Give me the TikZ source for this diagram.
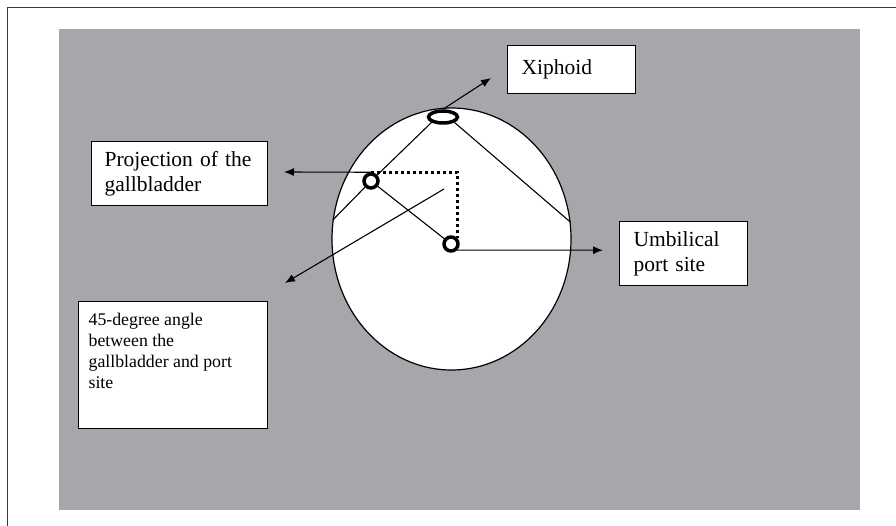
\documentclass[tikz,border=0pt]{standalone}
\usepackage{fontspec}
\setmainfont{Liberation Serif}
\usetikzlibrary{arrows.meta,shapes.geometric}
\definecolor{bggray}{HTML}{A6A7AB}
\definecolor{framegray}{HTML}{3A3A3A}

\begin{document}
\begin{tikzpicture}[x=1pt,y=-1pt,
  thinline/.style={line width=1.1pt},
  ring/.style={circle,draw,line width=3.5pt,fill=white,minimum size=14pt,inner sep=0pt},
  labelbox/.style={draw,fill=white,line width=1.2pt,anchor=north west,align=left,inner ysep=0pt,font=\fontsize{21.5}{25.5}\selectfont},
  arr/.style={line width=1.1pt,-{Latex[length=10pt,width=8pt]}},
  dotline/.style={line width=3pt,dash pattern=on 3pt off 3pt}]
\useasboundingbox (0,0) rectangle (896,526);
\draw[line width=1.8pt,framegray] (7.5,526) -- (7.5,7.5) -- (896,7.5);
\fill[bggray] (59,29) rectangle (860,510);

\node[ellipse,draw,fill=white,line width=1.2pt,minimum width=239pt,minimum height=262pt,inner sep=0pt] (abd) at (451.5,239) {};
\node[ellipse,draw,fill=white,line width=3.5pt,minimum width=29pt,minimum height=12pt,inner sep=0pt] (xiph) at (443,117) {};
\node[ring] (gb) at (371,181) {};
\node[ring] (umb) at (451,244) {};
\coordinate (ang) at (444,189);
\coordinate (angtip) at (285,283);
\coordinate (gbtip) at (284,172);
\coordinate (umbtip) at (603,250.2);
\coordinate (xiphtip) at (491,78);

\draw[thinline] (xiph.south west) -- (gb);
\draw[thinline] (gb) -- (abd.171.4);
\draw[thinline] (xiph.south east) -- (abd.8.1);
\draw[thinline] (gb) -- (umb);
\draw[dotline] (gb.north) -| (umb.north east);

\draw[arr] (xiph.north) -- (xiphtip);
\draw[arr] (gb.north) -- (gbtip);
\draw[arr] (umb.-45) -- (umbtip);
\draw[arr] (ang) -- (angtip);

\node[labelbox,minimum height=48pt,text width=100pt,inner xsep=14pt] (xiphbox) at (507,45) {Xiphoid};
\node[labelbox,minimum height=64pt,text width=150pt,inner xsep=13pt] (projbox) at (91,141) {Projection of the\\gallbladder};
\node[labelbox,minimum height=64pt,text width=100pt,inner xsep=14pt] (umbbox) at (619,221) {Umbilical\\port site};
\node[labelbox,inner xsep=10pt,inner ysep=12pt,font=\fontsize{17.8}{20.8}\selectfont] (anglebox) at (78,301)
  {\parbox[t][103pt][t]{169pt}{\raggedright 45-degree angle\\between the\\gallbladder and port\\site}};
\end{tikzpicture}
\end{document}
